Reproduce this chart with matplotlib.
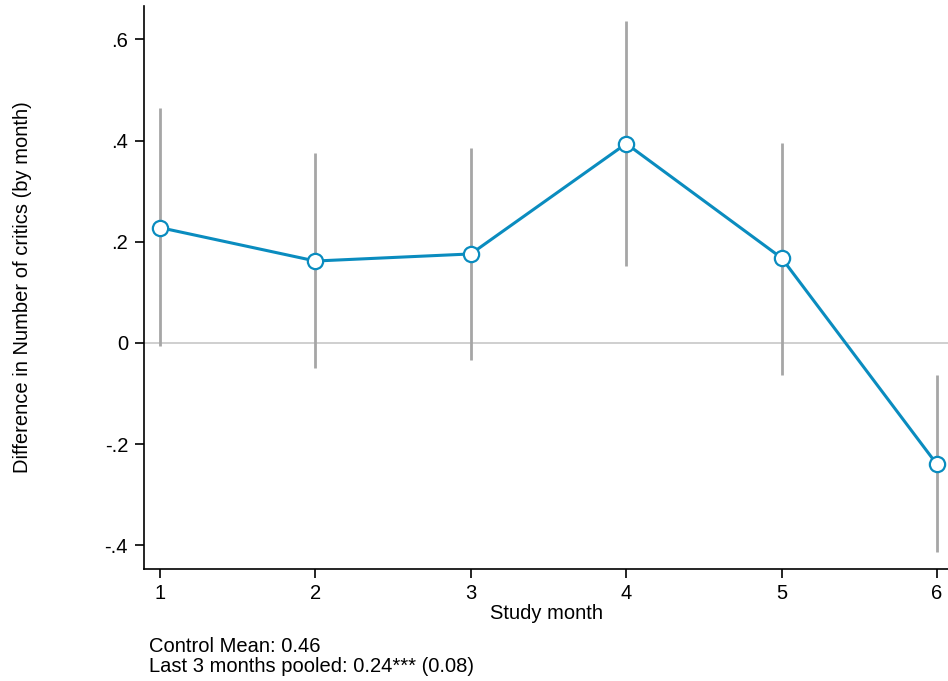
import matplotlib.pyplot as plt

# Estimates by study month
months = [1, 2, 3, 4, 5, 6]
coef = [0.228, 0.162, 0.176, 0.394, 0.168, -0.240]
ci_low = [-0.006, -0.050, -0.034, 0.152, -0.063, -0.414]
ci_high = [0.465, 0.376, 0.386, 0.636, 0.396, -0.063]

yticks = [-0.4, -0.2, 0, 0.2, 0.4, 0.6]
ytick_labels = ["-.4", "-.2", "0", ".2", ".4", ".6"]

plt.rcParams['font.family'] = ['Liberation Sans', 'DejaVu Sans']

fig = plt.figure(figsize=(9.48, 6.81), dpi=100)
ax = fig.add_axes([0.152, 0.1645, 0.848, 0.8267])

ax.axhline(0, color='#cccccc', lw=1.3, zorder=1)
ax.vlines(months, ci_low, ci_high, color='#a6a6a6', lw=2, zorder=2)
ax.plot(months, coef, color='#0a8cbf', lw=2.2, marker='o', markersize=11,
        markerfacecolor='white', markeredgecolor='#0a8cbf', markeredgewidth=1.6,
        zorder=3)

ax.set_xlim(0.897, 6.071)
ax.set_ylim(-0.4466, 0.666)
ax.set_xticks(months)
ax.set_yticks(yticks)
ax.set_yticklabels(ytick_labels)
ax.tick_params(axis='both', labelsize=14.5, length=6.5, width=1.2, direction='out')
ax.tick_params(axis='x', pad=4)
ax.tick_params(axis='y', pad=5)

for side in ['top', 'right']:
    ax.spines[side].set_visible(False)
ax.spines['left'].set_linewidth(1.2)
ax.spines['bottom'].set_linewidth(1.2)

ax.set_xlabel("Study month", fontsize=14.5, labelpad=1)
ax.set_ylabel("Difference in Number of critics (by month)", fontsize=14.5, labelpad=52)

fig.text(149 / 948, 1 - 647 / 681, "Control Mean: 0.46", fontsize=14.5, va='center')
fig.text(149 / 948, 1 - 666 / 681, "Last 3 months pooled: 0.24*** (0.08)", fontsize=14.5, va='center')

fig.savefig("out.png", dpi=100)
